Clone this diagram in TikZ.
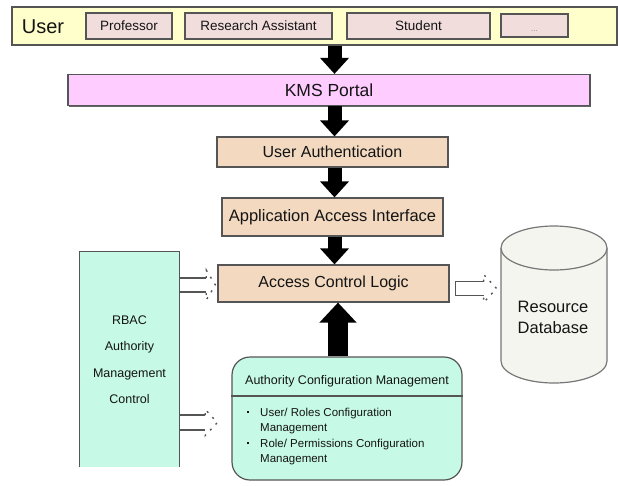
\documentclass[tikz,border=0pt]{standalone}
\usepackage{fontspec}
\setmainfont{Liberation Sans}
\usetikzlibrary{arrows.meta,shadows,calc}
\definecolor{ubar}{RGB}{255,255,204}
\definecolor{rose}{RGB}{242,221,221}
\definecolor{kmsc}{RGB}{255,204,255}
\definecolor{tanc}{RGB}{242,217,192}
\definecolor{mint}{RGB}{198,250,230}
\definecolor{dbc}{RGB}{245,245,240}
\definecolor{edge}{RGB}{85,85,85}
\definecolor{txt}{RGB}{20,20,20}
\begin{document}
\begin{tikzpicture}[x=1pt,y=-1pt,
 box/.style={draw=edge, line width=1.2pt, inner sep=0pt, text=txt},
 shade/.style={drop shadow={shadow xshift=1.2pt, shadow yshift=-1.2pt, fill=black!60, opacity=1}},
 subbox/.style={box, fill=rose, minimum height=26pt, font=\fontsize{13.5}{16}\selectfont, shade},
 tanbox/.style={box, fill=tanc, font=\fontsize{16}{19}\selectfont, shade},
 blk/.style={line width=14pt, -{Triangle[width=28pt,length=16pt]}},
 blkup/.style={line width=20pt, -{Triangle[width=36pt,length=20pt]}},
 hollow/.style={draw=edge, line width=1.2pt},
 headdots/.style={draw=edge, line width=1.4pt, dash pattern=on 2pt off 6pt},
]
\useasboundingbox (0,0) rectangle (618,485);

% user bar
\node[box, fill=ubar, minimum width=605pt, minimum height=38pt, shade] (user) at (314.5,26) {};
\node[text=txt, font=\fontsize{20}{22}\selectfont] (userlbl) at (43,27) {User};
\node[subbox, minimum width=86pt] (prof) at (129,26) {Professor};
\node[subbox, minimum width=147pt] (ra) at (258.5,26) {Research Assistant};
\node[subbox, minimum width=143pt] (stud) at (418.5,26) {Student};
\node[subbox, minimum width=67pt, minimum height=23pt] (more) at (534.5,25.5) {};
\node[text=black!45, font=\fontsize{8}{8}\selectfont] (moredots) at (534.5,31) {...};

% main column
\node[box, fill=kmsc, minimum width=522pt, minimum height=31pt, font=\fontsize{17.5}{20}\selectfont, shade] (kms) at (329,90) {KMS Portal};
\node[tanbox, minimum width=231pt, minimum height=30pt] (ua) at (332.5,152) {User Authentication};
\node[tanbox, minimum width=221pt, minimum height=38pt, font=\fontsize{16.5}{19}\selectfont] (aai) at (332.5,217) {Application Access Interface};
\node[tanbox, minimum width=231pt, minimum height=37pt] (acl) at (333.5,283.5) {Access Control Logic};

% RBAC box (no bottom border)
\node[fill=mint, minimum width=99pt, minimum height=215pt, inner sep=0pt, text=txt,
      align=center, font=\fontsize{12.5}{26.5}\selectfont] (rbac) at (129.5,359.5)
      {RBAC\\Authority\\Management\\Control};
\draw[edge, line width=1.2pt] (rbac.south west) -- (rbac.north west) -- (rbac.north east) -- (rbac.south east);

% Authority configuration management
\node[box, fill=mint, rounded corners=18pt, minimum width=230pt, minimum height=123pt] (acm) at (347,418.5) {};
\draw[edge, line width=1.2pt] (acm.west |- 0,396) -- (acm.east |- 0,396);
\node[text=txt, font=\fontsize{12.5}{15}\selectfont] (acmhead) at (347,381) {Authority Configuration Management};
\node[anchor=north west, inner sep=0pt, text=txt, font=\fontsize{11.5}{15.5}\selectfont] (acmlist) at (246.5,405)
 {\begin{tabular}{@{}l@{\hspace{11pt}}l@{}}
  \rule[3pt]{2.5pt}{2.5pt} & User/ Roles Configuration\\
   & Management\\
  \rule[3pt]{2.5pt}{2.5pt} & Role/ Permissions Configuration\\
   & Management
 \end{tabular}};

% Resource database cylinder
\fill[dbc] (501,248) -- (501,361) arc[start angle=180, end angle=360, x radius=53pt, y radius=22pt] -- (607,248) -- cycle;
\draw[edge!80, line width=1.2pt] (501,248) -- (501,361) arc[start angle=180, end angle=360, x radius=53pt, y radius=22pt] -- (607,248);
\draw[edge!80, line width=1.2pt, fill=dbc] (554,248) ellipse [x radius=53pt, y radius=22pt];
\node[text=txt, align=center, font=\fontsize{16.5}{21}\selectfont] (db) at (553,317.5) {Resource\\Database};

% black arrows
\coordinate (ax) at (334.5,0);
\coordinate (ux) at (338,0);
\draw[blk] (user.south -| ax) -- (kms.north -| ax);
\draw[blk] (kms.south -| ax) -- (ua.north -| ax);
\draw[blk] (ua.south -| ax) -- (aai.north -| ax);
\draw[blk] (aai.south -| ax) -- (acl.north -| ax);
\draw[blkup] (acm.north -| ux) -- (acl.south -| ux);

% hollow arrows: RBAC -> ACL
\coordinate (b1) at ($(rbac.east |- acl.west)+(0,1.5)$);
\coordinate (t1) at ($(acl.west)+(-2,1.5)$);
\draw[hollow] ($(b1)+(27,-7)$) -- ($(b1)+(0,-7)$) -- ($(b1)+(0,7)$) -- ($(b1)+(27,7)$);
\draw[headdots] ($(b1)+(27,-7)$) -- ($(b1)+(27,-15)$) -- (t1) -- ($(b1)+(27,15)$) -- ($(b1)+(27,7)$);

% RBAC -> ACM
\coordinate (b2) at ($(rbac.east |- acm.west)+(0,4)$);
\coordinate (t2) at ($(acm.west)+(-14,4)$);
\draw[hollow] ($(b2)+(26,-7.5)$) -- ($(b2)+(0,-7.5)$) -- ($(b2)+(0,7.5)$) -- ($(b2)+(26,7.5)$);
\draw[headdots] ($(b2)+(26,-7.5)$) -- ($(b2)+(26,-13)$) -- (t2) -- ($(b2)+(26,13)$) -- ($(b2)+(26,7.5)$);

% ACL -> DB
\coordinate (b3) at ($(acl.east)+(6,5)$);
\coordinate (t3) at ($(acl.east)+(47,5)$);
\draw[hollow] ($(b3)+(28,-7)$) -- ($(b3)+(0,-7)$) -- ($(b3)+(0,7)$) -- ($(b3)+(28,7)$);
\draw[headdots] ($(b3)+(28,-7)$) -- ($(b3)+(28,-14)$) -- (t3) -- ($(b3)+(28,14)$) -- ($(b3)+(28,7)$);
\end{tikzpicture}
\end{document}
